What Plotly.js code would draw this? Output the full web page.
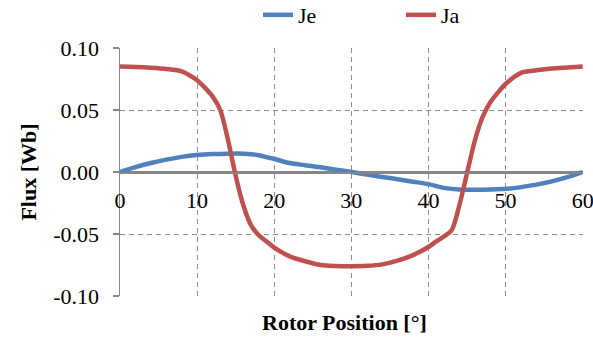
<!DOCTYPE html>
<html>
<head>
<meta charset="utf-8">
<script src="https://cdn.plot.ly/plotly-3.0.1.min.js"></script>
<style>
  html, body { margin: 0; padding: 0; background: #fff; }
  #chart { width: 593px; height: 337px; }
</style>
</head>
<body>
<div id="chart"></div>
<script>
// Rotor position in degrees
const positionJa = [0, 2, 4, 6, 8, 9, 10, 11, 12, 13, 14, 15, 16, 17, 18, 19, 20, 22, 24, 26, 28, 30,
                    32, 34, 36, 38, 40, 41, 42, 43, 44, 45, 46, 47, 48, 49, 50, 52, 54, 56, 58, 60];
// Armature flux linkage Ja [Wb]
const fluxJa = [0.085, 0.0847, 0.084, 0.083, 0.0812, 0.078, 0.074, 0.068, 0.061, 0.050, 0.026, -0.003,
                -0.027, -0.043, -0.051, -0.056, -0.061, -0.068, -0.072, -0.075, -0.0758, -0.076,
                -0.0757, -0.0745, -0.0715, -0.067, -0.0605, -0.056, -0.052, -0.047, -0.027, -0.001,
                0.025, 0.044, 0.056, 0.064, 0.071, 0.080, 0.082, 0.0835, 0.0843, 0.085];

const positionJe = [0, 2, 4, 6, 8, 10, 12, 14, 16, 17, 18, 20, 22, 24, 26, 28, 30, 32, 34, 36, 38, 40,
                    42, 44, 46, 48, 50, 52, 54, 56, 58, 60];
// Excitation flux linkage Je [Wb]
const fluxJe = [0.0, 0.004, 0.0073, 0.010, 0.0122, 0.0137, 0.0145, 0.0148, 0.0148, 0.0144, 0.0135,
                0.0105, 0.0072, 0.0055, 0.0038, 0.0019, 0.0, -0.002, -0.004, -0.0058, -0.0078, -0.0098,
                -0.0128, -0.0142, -0.0143, -0.0141, -0.0136, -0.0122, -0.0102, -0.0076, -0.0042, 0.0];

const seriesNames = ['Je', 'Ja'];
const yTickVals = [-0.10, -0.05, 0.00, 0.05, 0.10];
const yTickText = ['-0.10', '-0.05', '0.00', '0.05', '0.10'];
const xTickVals = [0, 10, 20, 30, 40, 50, 60];

const serif = 'Liberation Serif';
const textSize = 22;
const axisGray = '#868686';
const gridGray = '#8c8c8c';
const gridDash = '5px,4px';

const traces = [
  {
    x: positionJe, y: fluxJe, name: seriesNames[0], mode: 'lines',
    line: { color: '#4F81BD', width: 4.5, shape: 'spline', smoothing: 0.8 }
  },
  {
    x: positionJa, y: fluxJa, name: seriesNames[1], mode: 'lines',
    line: { color: '#C0504D', width: 4.5, shape: 'spline', smoothing: 0.8 }
  }
];

const layout = {
  width: 593, height: 337,
  margin: { l: 120, r: 10, t: 48, b: 41, autoexpand: false },
  paper_bgcolor: '#fff', plot_bgcolor: '#fff',
  font: { family: serif, size: textSize, color: '#000' },
  showlegend: true,
  legend: {
    orientation: 'h', x: 0.298, y: 1.133, xanchor: 'left', yanchor: 'middle',
    font: { family: serif, size: textSize, color: '#000' },
    entrywidth: 98, bgcolor: 'rgba(0,0,0,0)'
  },
  xaxis: {
    range: [0, 60.04], tickvals: xTickVals,
    anchor: 'free', position: 0.5,
    showline: true, linecolor: axisGray, linewidth: 1.5,
    ticks: '', ticklabelstandoff: 8, ticklabeloverflow: 'allow',
    showgrid: true, gridcolor: gridGray, gridwidth: 1, griddash: gridDash,
    zeroline: false,
    tickfont: { family: serif, size: textSize, color: '#000' }
  },
  yaxis: {
    range: [-0.1, 0.1], tickvals: yTickVals, ticktext: yTickText,
    showline: true, linecolor: axisGray, linewidth: 1.5,
    ticks: 'outside', ticklen: 6, tickcolor: axisGray, tickwidth: 1.5,
    ticklabelstandoff: 9,
    showgrid: true, gridcolor: gridGray, gridwidth: 1, griddash: gridDash,
    zeroline: true, zerolinecolor: axisGray, zerolinewidth: 1.5,
    tickfont: { family: serif, size: textSize, color: '#000' },
    title: { text: '<b>Flux [Wb]</b>', font: { family: serif, size: 22, color: '#000' }, standoff: 10 }
  },
  annotations: [
    {
      text: '<b>Rotor Position [°]</b>', xref: 'paper', yref: 'paper',
      x: 0.485, y: -0.105, xanchor: 'center', yanchor: 'middle', showarrow: false,
      font: { family: serif, size: 22, color: '#000' }
    }
  ]
};

Plotly.newPlot('chart', traces, layout, { displayModeBar: false, staticPlot: true });
</script>
</body>
</html>
